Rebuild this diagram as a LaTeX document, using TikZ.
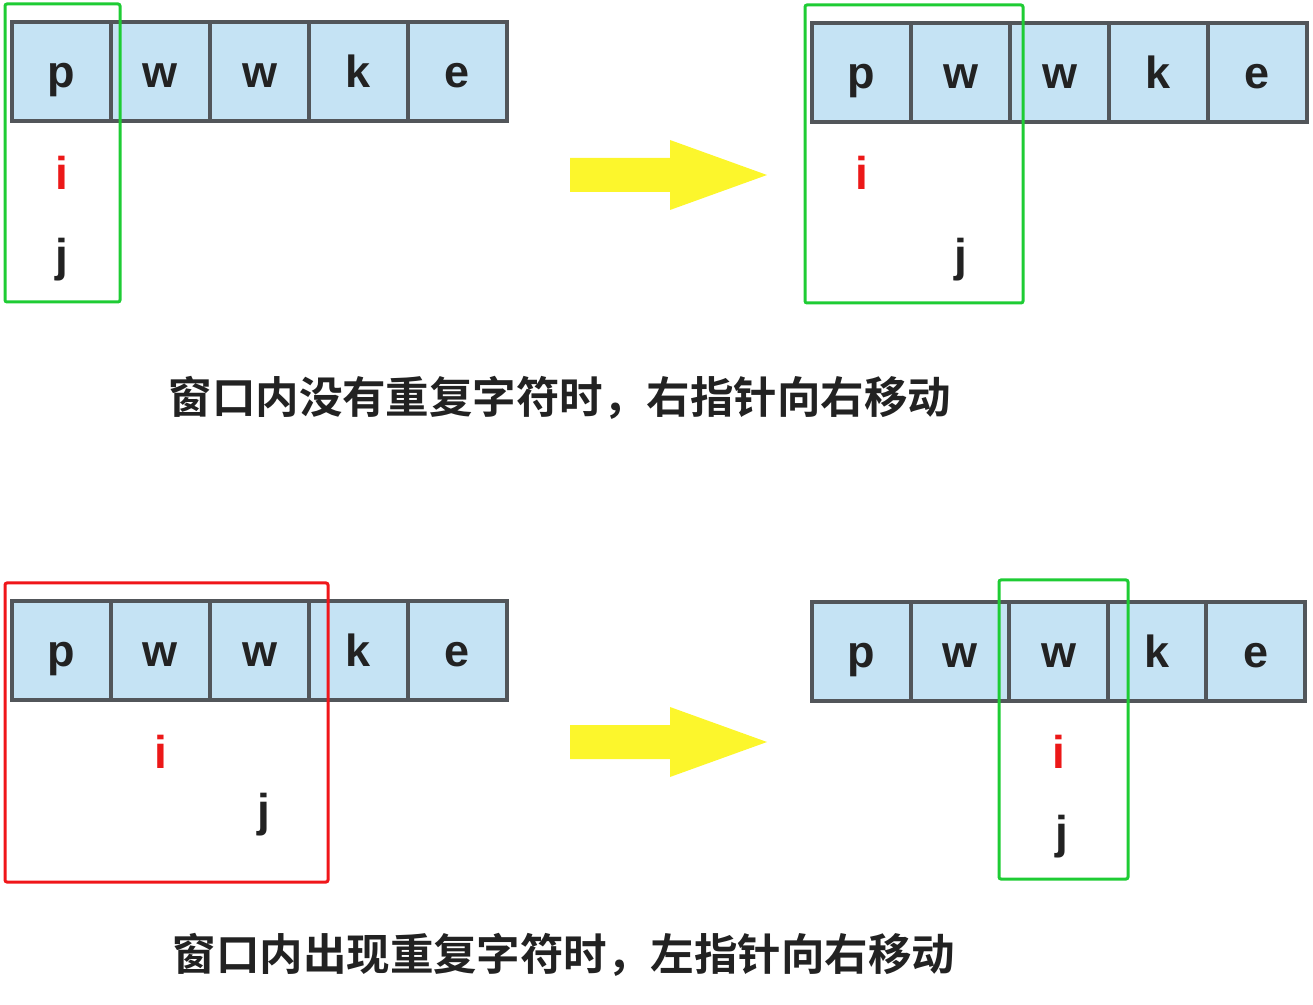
\documentclass[tikz,border=0pt]{standalone}
\usepackage{fontspec}
\setmainfont{Liberation Sans}
\newfontfamily\cjk{Noto Sans CJK SC Bold}
\usetikzlibrary{positioning}

\definecolor{cellblue}{RGB}{197,227,244}
\definecolor{cellgray}{RGB}{82,86,90}
\definecolor{textdark}{RGB}{34,34,34}
\definecolor{wingreen}{RGB}{30,204,52}
\definecolor{winred}{RGB}{240,22,26}
\definecolor{ptrred}{RGB}{236,24,24}
\definecolor{arrowyellow}{RGB}{252,246,44}

\begin{document}
\begin{tikzpicture}[
		x=0.5pt, y=-0.5pt,
		node distance=0pt,
		cell/.style={draw=cellgray, line width=2pt, fill=cellblue, rectangle, minimum width=49.5pt, minimum height=49.5pt, inner sep=0pt, outer sep=0pt, font=\fontsize{22.5}{22}\selectfont\bfseries, text=textdark, text height=16.5pt, text depth=0pt},
		narrow/.style={minimum width=49.3pt},
		ptr/.style={anchor=base, inner sep=0pt, font=\fontsize{23}{23}\selectfont\bfseries, text=textdark},
		win/.style={draw=wingreen, line width=1.5pt, rounded corners=1pt},
		caption/.style={font=\cjk\fontsize{21.75}{22}\selectfont, text=textdark},
		fatarrow/.style={fill=arrowyellow}
		]
		\useasboundingbox (0,0) rectangle (1313,1005);
		
		% Nodes: no repeat, right pointer moves
		\node[cell] (a1) at (61.5,71.5) {p};
		\node[cell, right=of a1] (a2) {w};
		\node[cell, right=of a2] (a3) {w};
		\node[cell, right=of a3] (a4) {k};
		\node[cell, right=of a4] (a5) {e};
		\node[ptr, text=ptrred] (ai) at (a1 |- 0,190) {i};
		\node[ptr] (aj) at (a1 |- 0,272) {j};
		
		\node[cell] (b1) at (861.5,72.5) {p};
		\node[cell, right=of b1] (b2) {w};
		\node[cell, right=of b2] (b3) {w};
		\node[cell, right=of b3] (b4) {k};
		\node[cell, right=of b4] (b5) {e};
		\node[ptr, text=ptrred] (bi) at (b1 |- 0,190) {i};
		\node[ptr] (bj) at (b2 |- 0,272) {j};
		
		\node[caption] (cap1) at (560,398) {窗口内没有重复字符时，右指针向右移动};
		
		% Nodes: repeat found, left pointer moves
		\node[cell] (c1) at (61.5,650.5) {p};
		\node[cell, right=of c1] (c2) {w};
		\node[cell, right=of c2] (c3) {w};
		\node[cell, right=of c3] (c4) {k};
		\node[cell, right=of c4] (c5) {e};
		\node[ptr, text=ptrred] (ci) at (c2 |- 0,768) {i};
		\node[ptr] (cj) at ([xshift=2pt]c3 |- 0,826) {j};
		
		\node[cell, narrow] (d1) at (861.3,651.5) {p};
		\node[cell, narrow, right=of d1] (d2) {w};
		\node[cell, narrow, right=of d2] (d3) {w};
		\node[cell, narrow, right=of d3] (d4) {k};
		\node[cell, narrow, right=of d4] (d5) {e};
		\node[ptr, text=ptrred] (di) at (d3 |- 0,768) {i};
		\node[ptr] (dj) at ([xshift=1.5pt]d3 |- 0,848) {j};
		
		\node[caption] (cap2) at (564,955) {窗口内出现重复字符时，左指针向右移动};
		
		% Windows
		\draw[win] (5,4) rectangle (120,302);
		\draw[win] (805,5) rectangle (1023,303);
		\draw[win, draw=winred] (5,583) rectangle (328,882);
		\draw[win] (999,580) rectangle (1128,879);
		
		% Arrows
		\fill[fatarrow] (570,158) -- (670,158) -- (670,140) -- (767,175) -- (670,210) -- (670,192) -- (570,192) -- cycle;
		\fill[fatarrow] (570,725) -- (670,725) -- (670,707) -- (767,742) -- (670,777) -- (670,759) -- (570,759) -- cycle;
		
	\end{tikzpicture}
\end{document}
